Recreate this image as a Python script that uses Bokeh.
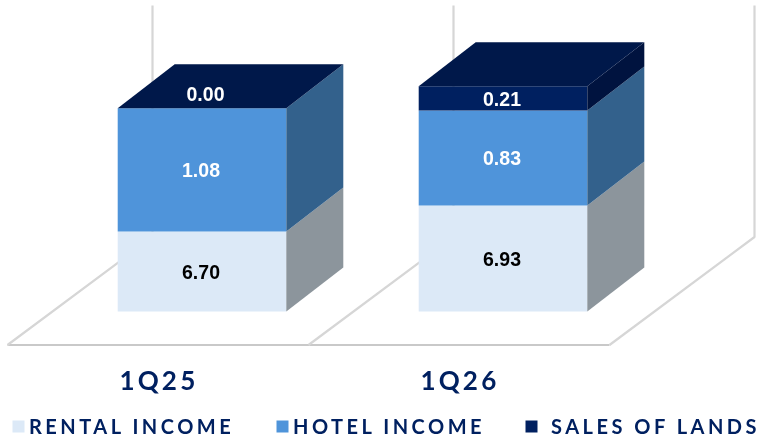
from bokeh.plotting import figure, curdoc
from bokeh.embed import file_html
from bokeh.resources import INLINE
from bokeh.models import Range1d, CustomJS
from bokeh.core.properties import value

categories = ["1Q25", "1Q26"]
series_names = ["RENTAL INCOME", "HOTEL INCOME", "SALES OF LANDS"]
# the picture's stack heights are not proportional to its printed labels: heights as drawn, labels as printed
rental_drawn = [80.0, 106.0]
hotel_drawn = [123.3, 95.0]
sales_drawn = [0.0, 24.3]
rental_labels = ["6.70", "6.93"]
hotel_labels = ["1.08", "0.83"]
sales_labels = ["0.00", "0.21"]

W, H = 759, 441
PX = 301.0            # px per category
X0 = 201.5            # px of the first bar's centre
Y0 = 311.0            # px of the bars' base
BAR_W = 168.6 / PX
DX, DY = 57.0 / PX, 44.0
FLOOR_L = -194.5 / PX
FLOOR_Y = Y0 - 344.5
WALL_DX, WALL_DY = 145 / PX, 108.0
WALL_TOP = Y0 - 5

x_of = lambda px: (px - X0) / PX
y_of = lambda py: Y0 - py

p = figure(width=W, height=H, output_backend="svg", toolbar_location=None,
           x_range=Range1d(-X0 / PX, (W - X0) / PX), y_range=Range1d(Y0 - H, Y0),
           min_border=0, outline_line_color=None, background_fill_color="white",
           styles={"position": "fixed", "left": "0", "top": "0"})
p.xaxis.visible = False
p.yaxis.visible = False
p.grid.visible = False

# floor and walls
n = len(categories)
fx = [FLOOR_L + i for i in range(n + 1)]
p.line([fx[0], fx[-1]], [FLOOR_Y, FLOOR_Y], line_color="#c9c9c9", line_width=2)
for f in fx:
    p.line([f, f + WALL_DX, f + WALL_DX], [FLOOR_Y, FLOOR_Y + WALL_DY, WALL_TOP],
           line_color="#d6d6d6", line_width=2.2)

xs = list(range(n))
bottoms = [0.0] * n
for vals, front, side in [(rental_drawn, "#dce9f7", "#8c959c"),
                          (hotel_drawn, "#4f94da", "#33618c"),
                          (sales_drawn, "#002060", "#00133f")]:
    tops = [b + v for b, v in zip(bottoms, vals)]
    p.vbar(x=xs, width=BAR_W, bottom=bottoms, top=tops, fill_color=front, line_color=None)
    px_, py_ = [], []
    for i in xs:
        if vals[i] <= 0:
            continue
        r = i + BAR_W / 2
        px_.append([r, r + DX, r + DX, r])
        py_.append([bottoms[i], bottoms[i] + DY, tops[i] + DY, tops[i]])
    p.patches(px_, py_, fill_color=side, line_color=None)
    bottoms = tops

# top faces
tx, ty = [], []
for i in xs:
    l, r = i - BAR_W / 2, i + BAR_W / 2
    tx.append([l, l + DX, r + DX, r])
    ty.append([bottoms[i], bottoms[i] + DY, bottoms[i] + DY, bottoms[i]])
p.patches(tx, ty, fill_color="#00184a", line_color=None)

# value labels
font = value("Liberation Sans")
b1 = rental_drawn
b2 = [a + b for a, b in zip(rental_drawn, hotel_drawn)]
lab_x, lab_y, lab_t, lab_c, lab_dx, lab_dy = [], [], [], [], [], []
for i in xs:
    lab_x += [i, i, i]
    lab_y += [b1[i] / 2, b1[i] + hotel_drawn[i] / 2, b2[i] + sales_drawn[i] / 2]
    lab_t += [rental_labels[i], hotel_labels[i], sales_labels[i]]
    lab_c += ["#000000", "#ffffff", "#ffffff"]
    zero = sales_drawn[i] == 0
    lab_dx += [-1, -1, 3.5 if zero else -1]
    lab_dy += [0.5, 0, -14 if zero else 0.5]
p.text(lab_x, lab_y, text=lab_t, text_color=lab_c, x_offset=lab_dx, y_offset=lab_dy,
       text_font=font, text_font_style="bold", text_font_size="19.5px",
       text_align="center", text_baseline="middle")

# category labels
p.text([x_of(152), x_of(453)], [y_of(379.5)] * 2, text=categories, text_color="#002060",
       text_font=value("Lato"), text_font_style="bold", text_font_size="26px",
       text_align="center", text_baseline="middle")

# legend
legend_x = [12, 276, 525]
legend_text_x = [28.5, 292.5, 550.5]
legend_colors = ["#dce9f7", "#4f94da", "#002060"]
p.scatter([x_of(v + 6) for v in legend_x], [y_of(426)] * 3, marker="square", size=12,
          fill_color=legend_colors, line_color=None)
p.text([x_of(v) for v in legend_text_x], [y_of(425)] * 3, text=series_names, text_color="#002060",
       text_font=value("Lato"), text_font_style="bold", text_font_size="20px",
       text_align="left", text_baseline="middle")

# letter-spaced category and legend texts (Bokeh has no property for it)
spacing = CustomJS(args=dict(names=series_names, cats=categories), code="""
function walk(root) {
  root.querySelectorAll('*').forEach(el => {
    if (el.shadowRoot) walk(el.shadowRoot);
    if (el.tagName.toLowerCase() === 'text') {
      const t = el.textContent;
      if (names.includes(t)) el.style.letterSpacing = '3.5px';
      else if (cats.includes(t)) el.style.letterSpacing = '3.2px';
    }
  });
}
let n = 0;
const id = setInterval(() => { walk(document); if (++n > 40) clearInterval(id); }, 50);
""")
doc = curdoc()
doc.add_root(p)
doc.js_on_event("document_ready", spacing)

open("out.html", "w").write(file_html(p, INLINE))
